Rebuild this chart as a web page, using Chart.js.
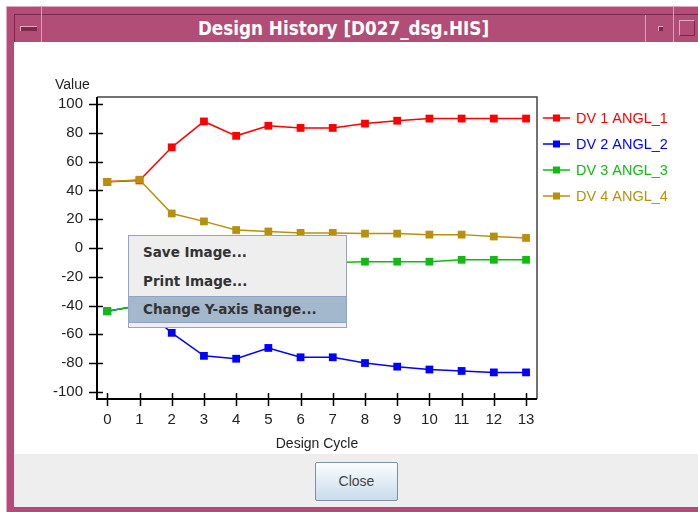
<!DOCTYPE html>
<html>
<head>
<meta charset="utf-8">
<script src="https://cdn.jsdelivr.net/npm/chart.js@4.4.0/dist/chart.umd.min.js"></script>
<style>
  body { margin: 0; width: 698px; height: 512px; overflow: hidden; position: relative; background: #fff; font-family: "Liberation Sans", Arial, sans-serif; }
  .frame { position: absolute; left: 6px; top: 6px; width: 720px; height: 520px; background: #b24d77; border-left: 1px solid #e2a6c0; border-top: 1px solid #e2a6c0; box-sizing: border-box; }
  .titlebar { position: absolute; left: 14px; top: 14px; width: 700px; height: 28px; background: #b24d77; border-top: 1px solid #7c2a4c; border-left: 1px solid #7c2a4c; box-sizing: border-box; }
  .sep { position: absolute; top: 6px; width: 1px; background: #dc9cb8; }
  .title { position: absolute; left: 42px; width: 603px; top: 15px; height: 27px; line-height: 27px; text-align: center; color: #fff; font-family: "DejaVu Sans Condensed", sans-serif; font-weight: bold; font-size: 18.7px; }
  .minbtn { position: absolute; left: 20px; top: 26px; width: 16px; height: 4px; background: #7c2a4c; border-top: 1px solid #e2a6c0; border-left: 1px solid #e2a6c0; }
  .dotbtn { position: absolute; left: 658px; top: 26px; width: 4px; height: 4px; background: #7c2a4c; border-top: 1px solid #e2a6c0; border-left: 1px solid #e2a6c0; }
  .maxbtn { position: absolute; left: 679px; top: 20px; width: 14px; height: 14px; border: 1px solid #7c2a4c; border-top-color: #e2a6c0; border-left-color: #e2a6c0; }
  .content { position: absolute; left: 14px; top: 42px; width: 684px; height: 465px; background: #fff; }
  .footer { position: absolute; left: 0; top: 412px; width: 684px; height: 53px; background: #eeeeee; }
  .closebtn { position: absolute; left: 301px; top: 8px; width: 83px; height: 39px; box-sizing: border-box; border: 1px solid #7d8fa3; border-radius: 2px; background: linear-gradient(#fbfdff, #c9dbea); color: #444; font-size: 14px; text-align: center; line-height: 37px; }
  .chartbox { position: absolute; left: 0; top: 0; width: 684px; height: 412px; }
  .menu { position: absolute; left: 128px; top: 235px; width: 219px; height: 93px; box-sizing: border-box; background: #eeeeee; border: 1px solid #8ea5c9; font-family: "DejaVu Sans", sans-serif; font-weight: bold; font-size: 13.5px; color: #333; }
  .item { position: absolute; left: 0; width: 217px; height: 27px; line-height: 27px; padding-left: 14px; box-sizing: border-box; }
  .item.hl { background: #a3b8cc; border-top: 1px solid #8ea5c9; border-bottom: 1px solid #8ea5c9; line-height: 25px; }
</style>
</head>
<body>
<div class="frame"></div>
<div class="titlebar"></div>
<div class="sep" style="left:41px;height:36px"></div>
<div class="sep" style="left:645px;top:15px;height:27px"></div>
<div class="sep" style="left:673px;height:36px"></div>
<div class="minbtn"></div>
<div class="dotbtn"></div>
<div class="maxbtn"></div>
<div class="title">Design History [D027_dsg.HIS]</div>
<div class="content">
  <div class="chartbox"><canvas id="chart" width="684" height="412"></canvas></div>
  <div class="footer"><div class="closebtn">Close</div></div>
</div>
<div class="menu">
  <div class="item" style="top:3px">Save Image...</div>
  <div class="item" style="top:32px">Print Image...</div>
  <div class="item hl" style="top:60px">Change Y-axis Range...</div>
</div>
<script>
const cycles = [0, 1, 2, 3, 4, 5, 6, 7, 8, 9, 10, 11, 12, 13];
const yTicks = [-100, -80, -60, -40, -20, 0, 20, 40, 60, 80, 100];
const seriesNames = ['DV 1 ANGL_1', 'DV 2 ANGL_2', 'DV 3 ANGL_3', 'DV 4 ANGL_4'];
const seriesColors = ['#ff0000', '#0000ff', '#11bb11', '#b8900c'];
const dv1 = [46, 47, 70, 88, 78, 85, 83.5, 83.5, 86.5, 88.5, 90, 90, 90, 90];
const dv2 = [-44, -40, -59, -75, -77, -69.5, -76, -76, -80, -82.5, -84.5, -85.5, -86.5, -86.5];
const dv3 = [-44, -40, -30, -21, -16, -13, -11.5, -10, -9.5, -9.5, -9.5, -8.2, -8.2, -8.2];
const dv4 = [46, 47.5, 24, 18.5, 12.5, 11.5, 10.5, 10.5, 10, 10, 9.3, 9.3, 8, 7];

const allSeries = [dv1, dv2, dv3, dv4];

const decor = {
  id: 'decor',
  beforeDatasetsDraw(chart) {
    const { ctx, chartArea: a } = chart;
    ctx.save();
    ctx.strokeStyle = '#444';
    ctx.lineWidth = 1.5;
    ctx.beginPath();
    ctx.moveTo(a.left, a.top); ctx.lineTo(a.right, a.top); ctx.lineTo(a.right, a.bottom);
    ctx.stroke();
    ctx.strokeStyle = '#000';
    ctx.lineWidth = 2;
    ctx.beginPath();
    ctx.moveTo(a.left, a.top); ctx.lineTo(a.left, a.bottom); ctx.lineTo(a.right, a.bottom);
    ctx.stroke();
    ctx.lineWidth = 1.5;
    const x = chart.scales.x, y = chart.scales.y;
    cycles.forEach(v => {
      const px = Math.round(x.getPixelForValue(v)) + 0.5;
      ctx.beginPath(); ctx.moveTo(px, a.bottom - 6); ctx.lineTo(px, a.bottom + 7); ctx.stroke();
    });
    yTicks.forEach(v => {
      const py = Math.round(y.getPixelForValue(v)) + 0.5;
      ctx.beginPath(); ctx.moveTo(a.left - 8, py); ctx.lineTo(a.left + 6, py); ctx.stroke();
    });
    ctx.restore();
  },
  afterDraw(chart) {
    const { ctx, chartArea: a } = chart;
    ctx.save();
    ctx.font = '14px "Liberation Sans", Arial, sans-serif';
    ctx.fillStyle = '#222';
    ctx.textBaseline = 'middle';
    ctx.textAlign = 'left';
    ctx.fillText('Value', 41, 43);
    ctx.textAlign = 'center';
    ctx.fillText('Design Cycle', (a.left + a.right) / 2, 402);
    // legend
    ctx.textAlign = 'left';
    ctx.font = '14.5px "Liberation Sans", Arial, sans-serif';
    seriesNames.forEach((name, i) => {
      const ly = 76 + i * 26;
      const lx = a.right + 6;
      ctx.strokeStyle = seriesColors[i];
      ctx.fillStyle = seriesColors[i];
      ctx.lineWidth = 1.5;
      ctx.beginPath(); ctx.moveTo(lx, ly); ctx.lineTo(lx + 27, ly); ctx.stroke();
      ctx.fillRect(lx + 10, ly - 3.5, 7, 7);
      ctx.fillText(name, lx + 33, ly + 1);
    });
    ctx.restore();
  }
};

new Chart(document.getElementById('chart'), {
  type: 'line',
  data: {
    datasets: allSeries.map((s, i) => ({
      label: seriesNames[i],
      data: s.map((v, k) => ({ x: cycles[k], y: v })),
      borderColor: seriesColors[i],
      backgroundColor: seriesColors[i],
      borderWidth: 1.5,
      pointStyle: 'rect',
      pointRadius: 5.5,
      pointBorderWidth: 0,
      tension: 0,
      order: 4 - i
    }))
  },
  options: {
    responsive: false,
    animation: false,
    events: [],
    layout: { padding: { top: 55, right: 161, left: 0, bottom: 0 } },
    plugins: { legend: { display: false }, tooltip: { enabled: false } },
    scales: {
      x: {
        type: 'linear', min: -0.32, max: 13.34,
        afterBuildTicks: s => { s.ticks = cycles.map(v => ({ value: v })); },
        afterFit: s => { s.height = 55; },
        grid: { display: false }, border: { display: false },
        ticks: { color: '#222', padding: 4, maxRotation: 0, autoSkip: false, font: { size: 15, family: '"Liberation Sans", Arial, sans-serif' } }
      },
      y: {
        min: -105, max: 105,
        afterBuildTicks: s => { s.ticks = yTicks.map(v => ({ value: v })); },
        afterFit: s => { s.width = 83; },
        grid: { display: false }, border: { display: false },
        ticks: { color: '#222', padding: 6, autoSkip: false, font: { size: 15, family: '"Liberation Sans", Arial, sans-serif' } }
      }
    }
  },
  plugins: [decor]
});
</script>
</body>
</html>
